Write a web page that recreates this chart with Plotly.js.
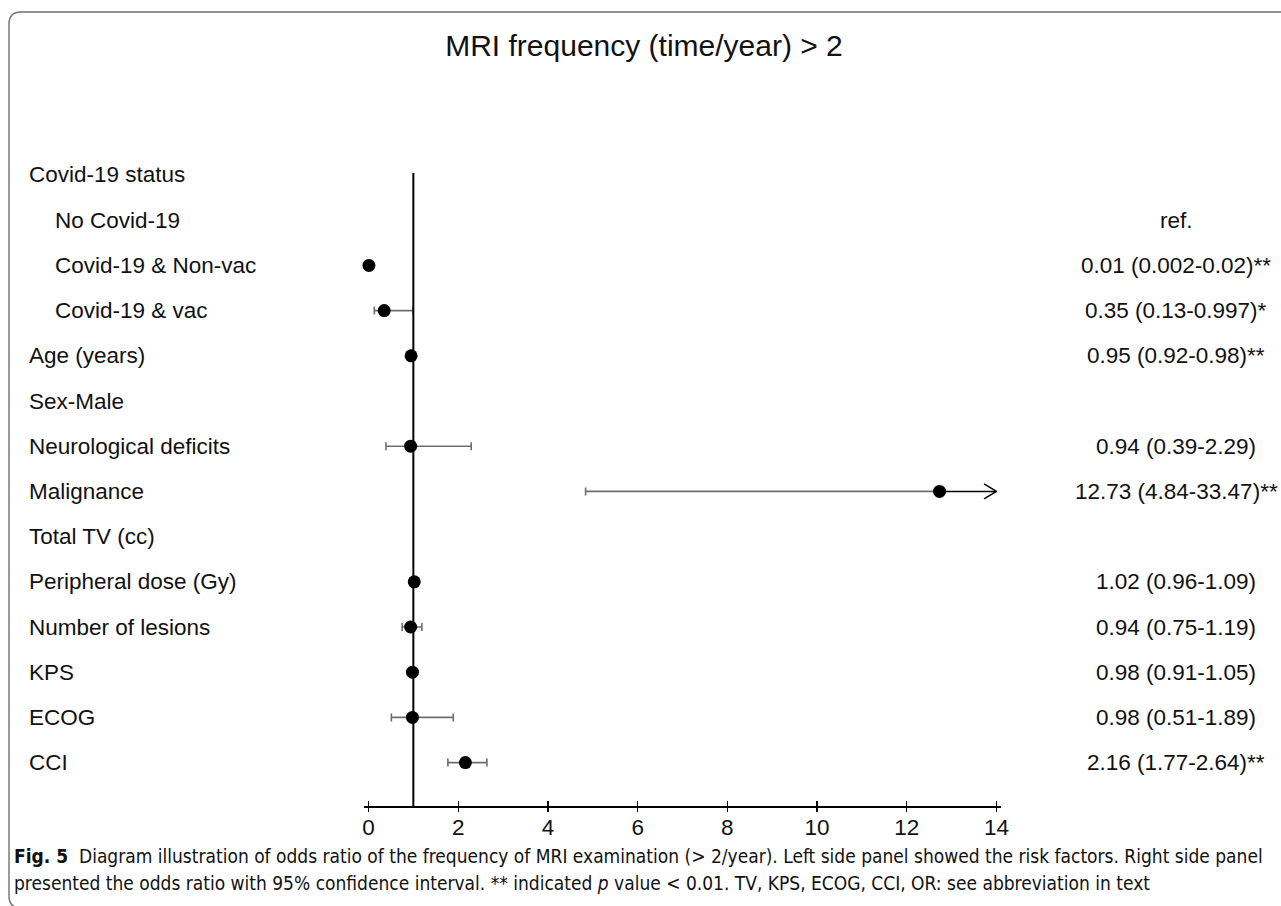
<!DOCTYPE html>
<html>
<head>
<meta charset="utf-8">
<script src="https://cdn.plot.ly/plotly-3.0.1.min.js"></script>
<style>
  html, body { margin: 0; padding: 0; background: #ffffff; }
  #chart { width: 1281px; height: 906px; }
</style>
</head>
<body>
<div id="chart"></div>
<script>
// ---------------- data ----------------
const rowLabels = [
  "Covid-19 status", "No Covid-19", "Covid-19 & Non-vac", "Covid-19 & vac",
  "Age (years)", "Sex-Male", "Neurological deficits", "Malignance",
  "Total TV (cc)", "Peripheral dose (Gy)", "Number of lesions", "KPS", "ECOG", "CCI"
];
const rowIndent = [0, 1, 1, 1, 0, 0, 0, 0, 0, 0, 0, 0, 0, 0];
const oddsRatio = [null, null, 0.01, 0.35, 0.95, null, 0.94, 12.73, null, 1.02, 0.94, 0.98, 0.98, 2.16];
const ciLower   = [null, null, 0.002, 0.13, 0.92, null, 0.39, 4.84, null, 0.96, 0.75, 0.91, 0.51, 1.77];
const ciUpper   = [null, null, 0.02, 0.997, 0.98, null, 2.29, 33.47, null, 1.09, 1.19, 1.05, 1.89, 2.64];
const orText = [
  "", "ref.", "0.01 (0.002-0.02)**", "0.35 (0.13-0.997)*", "0.95 (0.92-0.98)**", "",
  "0.94 (0.39-2.29)", "12.73 (4.84-33.47)**", "", "1.02 (0.96-1.09)", "0.94 (0.75-1.19)",
  "0.98 (0.91-1.05)", "0.98 (0.51-1.89)", "2.16 (1.77-2.64)**"
];
const orHeader = "OR (95%CI)";
const xTickVals = [0, 2, 4, 6, 8, 10, 12, 14];
const refValue = 1;
const chartTitle = "MRI frequency (time/year) &gt; 2";
const captionLine1 = "<b>Fig. 5</b>  Diagram illustration of odds ratio of the frequency of MRI examination (&gt; 2/year). Left side panel showed the risk factors. Right side panel";
const captionLine2 = "presented the odds ratio with 95% confidence interval. ** indicated <i>p</i> value &lt; 0.01. TV, KPS, ECOG, CCI, OR: see abbreviation in text";

// ---------------- layout geometry ----------------
const W = 1281, H = 906;
const M = { l: 364, r: 280, t: 173, b: 100 };
const plotW = W - M.l - M.r, plotH = H - M.t - M.b;
const xRange = [-0.1, 14.1];
const yRange = [13.96, -0.044];
const xMax = 14;
const px2paperX = px => (px - M.l) / plotW;
const py2paperY = py => (H - M.b - py) / plotH;

const FONT = "Liberation Sans, Arial, Helvetica, sans-serif";
const CAPFONT = "Liberation Sans Narrow, DejaVu Sans Condensed, Open Sans, sans-serif";

// ---------------- traces ----------------
const idx = [], xs = [], eplus = [], eminus = [];
const arrows = [];
rowLabels.forEach((_, i) => {
  if (oddsRatio[i] === null) return;
  idx.push(i);
  xs.push(oddsRatio[i]);
  eminus.push(oddsRatio[i] - ciLower[i]);
  if (ciUpper[i] > xMax) { eplus.push(0); arrows.push(i); }
  else eplus.push(ciUpper[i] - oddsRatio[i]);
});

const traces = [];
arrows.forEach(i => {
  traces.push({
    type: "scatter", mode: "lines", x: [oddsRatio[i], xMax], y: [i, i],
    line: { color: "#000", width: 1.5 }, hoverinfo: "skip", showlegend: false, cliponaxis: false
  });
});
traces.push({
  type: "scatter", mode: "markers", x: xs, y: idx,
  marker: { color: "#000", size: 13 },
  error_x: { type: "data", symmetric: false, array: eplus, arrayminus: eminus,
             color: "#6e6e6e", thickness: 1.6, width: 4 },
  showlegend: false, cliponaxis: false
});
traces.push({ type: "scatter", x: [], y: [], xaxis: "x2", yaxis: "y", showlegend: false });

// ---------------- shapes ----------------
const shapes = [];
shapes.push({ type: "line", xref: "x", yref: "paper", x0: refValue, x1: refValue, y0: 0, y1: 1,
              line: { color: "#000", width: 2 } });
const dxHead = 12.5 * (xRange[1] - xRange[0]) / plotW;
const dyHead = 7.5 * Math.abs(yRange[0] - yRange[1]) / plotH;
arrows.forEach(i => {
  shapes.push({ type: "line", xref: "x", yref: "y", x0: xMax - dxHead, y0: i - dyHead, x1: xMax, y1: i,
                line: { color: "#000", width: 1.5 } });
  shapes.push({ type: "line", xref: "x", yref: "y", x0: xMax - dxHead, y0: i + dyHead, x1: xMax, y1: i,
                line: { color: "#000", width: 1.5 } });
});
// rounded frame
(function () {
  const L = 9, T = 12, R = 1300, B = 908, r = 12;
  const X = px2paperX, Y = py2paperY;
  const path = `M ${X(L)},${Y(B - r)} L ${X(L)},${Y(T + r)} Q ${X(L)},${Y(T)} ${X(L + r)},${Y(T)} ` +
               `L ${X(R - r)},${Y(T)} Q ${X(R)},${Y(T)} ${X(R)},${Y(T + r)} L ${X(R)},${Y(B - r)} ` +
               `Q ${X(R)},${Y(B)} ${X(R - r)},${Y(B)} L ${X(L + r)},${Y(B)} Q ${X(L)},${Y(B)} ${X(L)},${Y(B - r)} Z`;
  shapes.push({ type: "path", xref: "paper", yref: "paper", path: path,
                line: { color: "#707070", width: 1.4 }, fillcolor: "rgba(0,0,0,0)", layer: "below" });
})();

// ---------------- annotations ----------------
const annotations = [];
rowLabels.forEach((lab, i) => {
  annotations.push({ xref: "paper", yref: "y", x: px2paperX(rowIndent[i] ? 53 : 27), y: i,
    xanchor: "left", yanchor: "middle", text: lab, showarrow: false,
    font: { family: FONT, size: 22.5, color: "#111" } });
  if (orText[i]) annotations.push({ xref: "paper", yref: "y", x: px2paperX(1176), y: i,
    xanchor: "center", yanchor: "middle", text: orText[i], showarrow: false,
    font: { family: FONT, size: 22.5, color: "#111" } });
});
annotations.push({ xref: "paper", yref: "y", x: px2paperX(1176), y: -1,
  xanchor: "center", yanchor: "middle", text: orHeader, showarrow: false,
  font: { family: FONT, size: 22.5, color: "#111" } });
annotations.push({ xref: "paper", yref: "paper", x: px2paperX(12), y: py2paperY(856),
  xanchor: "left", yanchor: "middle", text: captionLine1, showarrow: false, align: "left",
  font: { family: CAPFONT, size: 19, color: "#111" } });
annotations.push({ xref: "paper", yref: "paper", x: px2paperX(12), y: py2paperY(883),
  xanchor: "left", yanchor: "middle", text: captionLine2, showarrow: false, align: "left",
  font: { family: CAPFONT, size: 19, color: "#111" } });

// ---------------- layout ----------------
const layout = {
  width: W, height: H,
  margin: M,
  paper_bgcolor: "#fff", plot_bgcolor: "rgba(0,0,0,0)",
  showlegend: false,
  title: { text: chartTitle, xref: "container", yref: "container", x: 644 / W, y: 1 - 45 / H,
           xanchor: "center", yanchor: "middle", font: { family: FONT, size: 30, color: "#111" } },
  xaxis: { range: xRange, tickvals: xTickVals, ticktext: xTickVals.map(String),
           showgrid: false, zeroline: false, showline: true, linecolor: "#000", linewidth: 1.6,
           ticks: "inside", ticklen: 5, tickwidth: 1.4, tickcolor: "#000",
           tickfont: { family: FONT, size: 22.5, color: "#111" }, fixedrange: true },
  xaxis2: { range: xRange, tickvals: xTickVals, overlaying: "x", anchor: "y", side: "bottom",
            showgrid: false, zeroline: false, showline: false, showticklabels: false,
            ticks: "outside", ticklen: 5, tickwidth: 1.4, tickcolor: "#000", fixedrange: true },
  yaxis: { range: yRange, visible: false, showgrid: false, zeroline: false, fixedrange: true },
  shapes: shapes,
  annotations: annotations
};

Plotly.newPlot("chart", traces, layout, { displayModeBar: false, staticPlot: true });
</script>
</body>
</html>
